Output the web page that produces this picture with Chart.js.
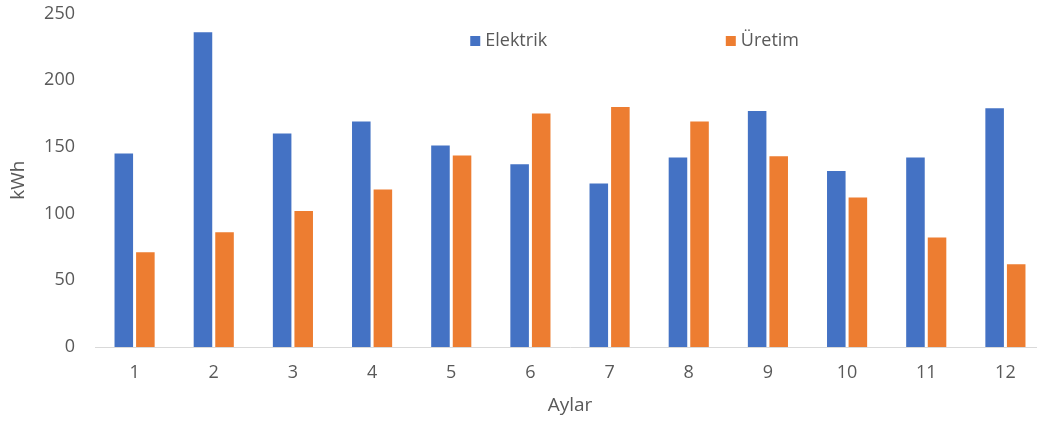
<!DOCTYPE html>
<html>
<head>
<meta charset="utf-8">
<script src="https://cdn.jsdelivr.net/npm/chart.js@4/dist/chart.umd.min.js"></script>
<style>
  html, body { margin: 0; padding: 0; background: #fff; overflow: hidden; }
  #wrap { width: 1045px; height: 423px; position: relative; }
</style>
</head>
<body>
<div id="wrap"><canvas id="c" width="1045" height="423"></canvas></div>
<script>
// Monthly electricity use vs. production (kWh)
const months = ['1', '2', '3', '4', '5', '6', '7', '8', '9', '10', '11', '12'];
const elektrik = [145, 236, 160, 169, 151, 137, 122.5, 142, 177, 132, 142, 179];
const uretim = [71, 86, 102, 118, 143.5, 175, 180, 169, 143, 112, 82, 62];
const seriesNames = ['Elektrik', 'Üretim'];
const yTicks = [0, 50, 100, 150, 200, 250];

const BLUE = '#4472C4';
const ORANGE = '#ED7D31';
const TEXT = '#595959';
const FONT = '"Open Sans", "Noto Sans", sans-serif';

// Legend drawn inside the plot, spread across the top
const insideLegend = {
  id: 'insideLegend',
  afterDraw(chart) {
    const { ctx, chartArea } = chart;
    const w = chartArea.right - chartArea.left;
    const slots = [0.395, 0.664];
    const y = chartArea.top + 27.5;
    ctx.save();
    ctx.font = '18px ' + FONT;
    ctx.textBaseline = 'middle';
    ctx.textAlign = 'left';
    chart.data.datasets.forEach((ds, i) => {
      const x = chartArea.left + w * slots[i];
      ctx.fillStyle = ds.backgroundColor;
      ctx.fillRect(x, y - 5, 10, 10);
      ctx.fillStyle = TEXT;
      ctx.fillText(ds.label, x + 15, y);
    });
    ctx.restore();
  }
};

new Chart(document.getElementById('c'), {
  type: 'bar',
  data: {
    labels: months,
    datasets: [
      { label: seriesNames[0], data: elektrik, backgroundColor: BLUE },
      { label: seriesNames[1], data: uretim, backgroundColor: ORANGE }
    ]
  },
  options: {
    responsive: false,
    animation: false,
    devicePixelRatio: 1,
    layout: { padding: { top: 13.5, left: 0, right: 0, bottom: 0 } },
    datasets: {
      bar: { categoryPercentage: 0.545, barPercentage: 0.86 }
    },
    plugins: {
      legend: { display: false },
      tooltip: { enabled: false }
    },
    scales: {
      x: {
        grid: { display: true, drawOnChartArea: false, drawTicks: false },
        border: { display: true, color: '#D9D9D9', width: 1 },
        ticks: { color: TEXT, font: { family: FONT, size: 18 }, padding: 15 },
        title: {
          display: true, text: 'Aylar', color: TEXT,
          font: { family: FONT, size: 19 }, padding: { top: 4, bottom: 6 }
        },
        afterFit(scale) {
          scale.height = 76;
          scale.paddingLeft = 0;
          scale.paddingRight = 0;
        }
      },
      y: {
        min: 0,
        max: 250,
        afterBuildTicks(scale) { scale.ticks = yTicks.map(v => ({ value: v })); },
        grid: { display: false },
        border: { display: false },
        ticks: { color: TEXT, font: { family: FONT, size: 18 }, padding: 12 },
        title: {
          display: true, text: 'kWh', color: TEXT,
          font: { family: FONT, size: 19 }, padding: { top: 7, bottom: 0 }
        },
        afterFit(scale) {
          scale.width = 95;
          scale.paddingTop = 0;
          scale.paddingBottom = 0;
        }
      }
    }
  },
  plugins: [insideLegend]
});
</script>
</body>
</html>
